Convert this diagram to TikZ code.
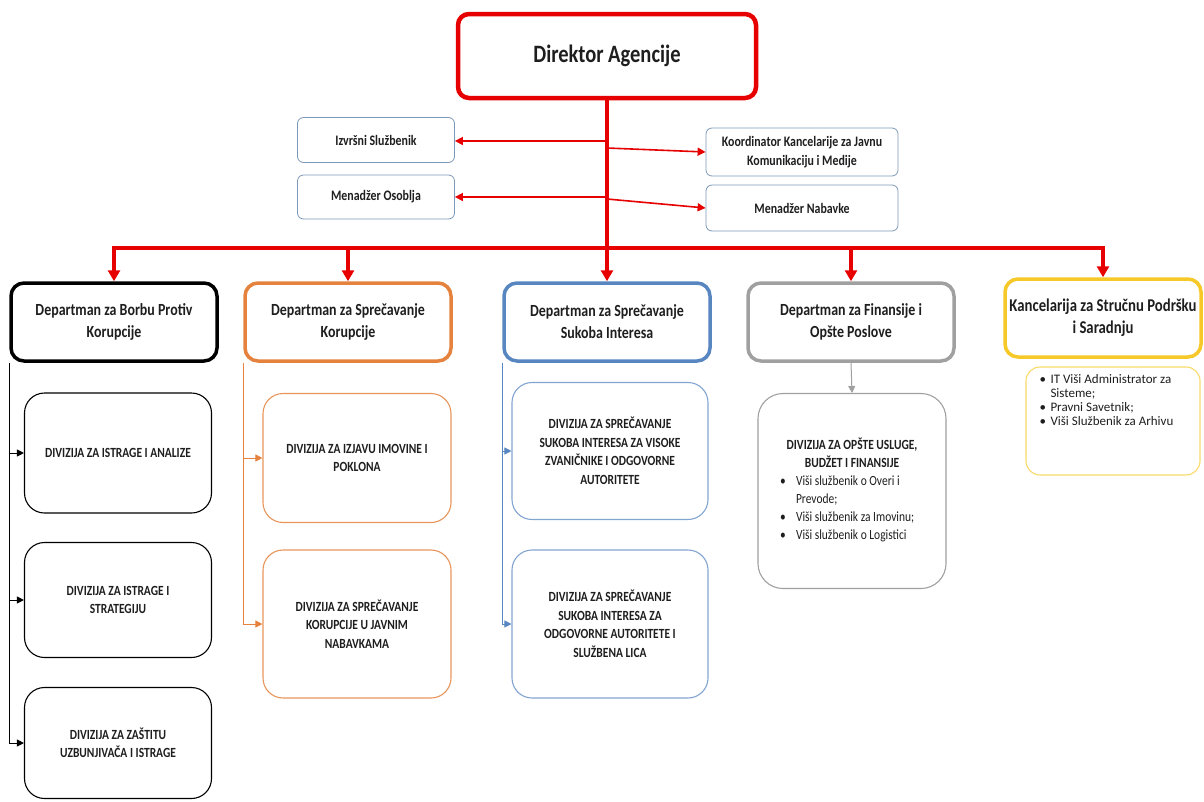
\documentclass[tikz,border=0pt]{standalone}
\usepackage{fontspec}
\setmainfont{Carlito}[FakeStretch=0.82]
\newfontfamily\widefont{Carlito}
\usetikzlibrary{positioning,arrows.meta}

\definecolor{agred}{RGB}{230,0,0}
\definecolor{deptorange}{RGB}{228,130,62}
\definecolor{deptblue}{RGB}{88,134,192}
\definecolor{deptgray}{RGB}{160,160,160}
\definecolor{deptyellow}{RGB}{246,200,40}
\definecolor{staffblue}{RGB}{125,152,182}
\definecolor{ink}{RGB}{30,30,30}

\begin{document}
\begin{tikzpicture}[x=1pt,y=-1pt,
    every node/.style={text=ink},
    headbox/.style={draw=agred,line width=4.5pt,rounded corners=11pt,minimum width=298,minimum height=84,font=\fontsize{25}{30}\selectfont\bfseries},
    staffbox/.style={draw=staffblue,line width=0.8pt,rounded corners=6pt,align=center,font=\fontsize{14.5}{19}\selectfont\bfseries},
    deptbox/.style={line width=3.5pt,rounded corners=13pt,align=center,inner sep=3pt,minimum width=206,minimum height=78,font=\fontsize{17}{22}\selectfont\bfseries},
    divbox/.style={line width=1.1pt,rounded corners=20pt,align=center,font=\fontsize{14}{18.5}\selectfont\bfseries},
    redbar/.style={agred,line width=4.5pt,line cap=rect},
    reddrop/.style={agred,line width=4.5pt,-{Triangle[length=11pt,width=12pt]}},
    redside/.style={agred,line width=1.6pt,-{Triangle[length=8pt,width=8pt]}},
    feed/.style={line width=1pt,-{Triangle[length=7pt,width=7pt]}}
]
    \useasboundingbox (0,0) rectangle (1204,801);

    \node[headbox] (dir) at (607,56) {Direktor Agencije};

    \node[staffbox,minimum width=157,minimum height=45] (izv) at (376,140) {Izvršni Službenik};
    \node[staffbox,minimum width=157,minimum height=44] (osob) at (376,197) {Menadžer Osoblja};
    \node[staffbox,minimum width=192,minimum height=48] (koord) at (802,152) {Koordinator Kancelarije za Javnu\\Komunikaciju i Medije};
    \node[staffbox,minimum width=192,minimum height=46] (nabav) at (802,208) {Menadžer Nabavke};

    \node[deptbox,draw=black] (dep1) at (114,322) {Departman za Borbu Protiv\\Korupcije};
    \node[deptbox,draw=deptorange] (dep2) at (348,322) {Departman za Sprečavanje\\Korupcije};
    \node[deptbox,draw=deptblue] (dep3) at (607,322) {Departman za Sprečavanje\\Sukoba Interesa};
    \node[deptbox,draw=deptgray] (dep4) at (851,322) {Departman za Finansije i\\Opšte Poslove};
    \node[deptbox,draw=deptyellow,minimum width=196,font=\fontsize{18}{22}\selectfont\bfseries] (dep5) at (1103,318) {Kancelarija za Stručnu Podršku\\i Saradnju};

    \node[divbox,draw=black,minimum width=187,minimum height=120] (d11) at (118,453) {DIVIZIJA ZA ISTRAGE I ANALIZE};
    \node[divbox,draw=black,minimum width=187,minimum height=115] (d12) at (118,600) {DIVIZIJA ZA ISTRAGE I\\STRATEGIJU};
    \node[divbox,draw=black,minimum width=187,minimum height=111] (d13) at (118,743) {DIVIZIJA ZA ZAŠTITU\\UZBUNJIVAČA I ISTRAGE};

    \node[divbox,draw=deptorange!85,minimum width=188,minimum height=129] (d21) at (357,458) {DIVIZIJA ZA IZJAVU IMOVINE I\\POKLONA};
    \node[divbox,draw=deptorange!85,minimum width=188,minimum height=148] (d22) at (357,624) {DIVIZIJA ZA SPREČAVANJE\\KORUPCIJE U JAVNIM\\NABAVKAMA};

    \node[divbox,draw=deptblue!75,minimum width=196,minimum height=137] (d31) at (610,451) {DIVIZIJA ZA SPREČAVANJE\\SUKOBA INTERESA ZA VISOKE\\ZVANIČNIKE I ODGOVORNE\\AUTORITETE};
    \node[divbox,draw=deptblue!75,minimum width=196,minimum height=148] (d32) at (610,624) {DIVIZIJA ZA SPREČAVANJE\\SUKOBA INTERESA ZA\\ODGOVORNE AUTORITETE I\\SLUŽBENA LICA};

    \node[divbox,draw=deptgray,minimum width=188,minimum height=195,rounded corners=25pt,font=\fontsize{14}{18}\selectfont] (d4) at (852,491) {%
        \begin{tabular}{@{}p{16pt}@{}p{128pt}@{}}
        \multicolumn{2}{@{}c@{}}{\bfseries DIVIZIJA ZA OPŠTE USLUGE,}\\
        \multicolumn{2}{@{}c@{}}{\bfseries BUDŽET I FINANSIJE}\\
        \textbullet & Viši službenik o Overi i\\
         & Prevode;\\
        \textbullet & Viši službenik za Imovinu;\\
        \textbullet & Viši službenik o Logistici
        \end{tabular}};

    \node[divbox,draw=deptyellow!70,minimum width=174,minimum height=108,rounded corners=14pt,font=\widefont\fontsize{13}{14}\selectfont] (d5) at (1113,421) {%
        \begin{tabular}{@{}p{11pt}@{}p{136pt}@{}}
        \textbullet & IT Viši Administrator za\\
         & Sisteme;\\
        \textbullet & Pravni Savetnik;\\
        \textbullet & Viši Službenik za Arhivu\\[38pt]
        \end{tabular}};

    \coordinate (bar) at (607,248);
    \coordinate (sl1) at (607,141);
    \coordinate (sr1) at (607,148);
    \coordinate (sl2) at (607,197);
    \coordinate (sr2) at (607,199);

    \draw[reddrop] (dir.south) -- (dep3.north);
    \draw[redbar] (dep1.north |- bar) -- (dep5.north |- bar);
    \foreach \d in {dep1,dep2,dep4,dep5}
        \draw[reddrop] (\d.north |- bar) -- (\d.north);

    \draw[redside] (sl1) -- (sl1 -| izv.east);
    \draw[redside] (sr1) -- (koord.west);
    \draw[redside] (sl2) -- (sl2 -| osob.east);
    \draw[redside] (sr2) -- (nabav.west);

    \foreach \t in {d11,d12,d13}
        \draw[feed,black] (dep1.south west) |- (\t.west);
    \foreach \t in {d21,d22}
        \draw[feed,deptorange] (dep2.south west) |- (\t.west);
    \foreach \t in {d31,d32}
        \draw[feed,deptblue] (dep3.south west) |- (\t.west);
    \draw[feed,deptgray] (dep4.south) -- (d4.north);
\end{tikzpicture}
\end{document}
